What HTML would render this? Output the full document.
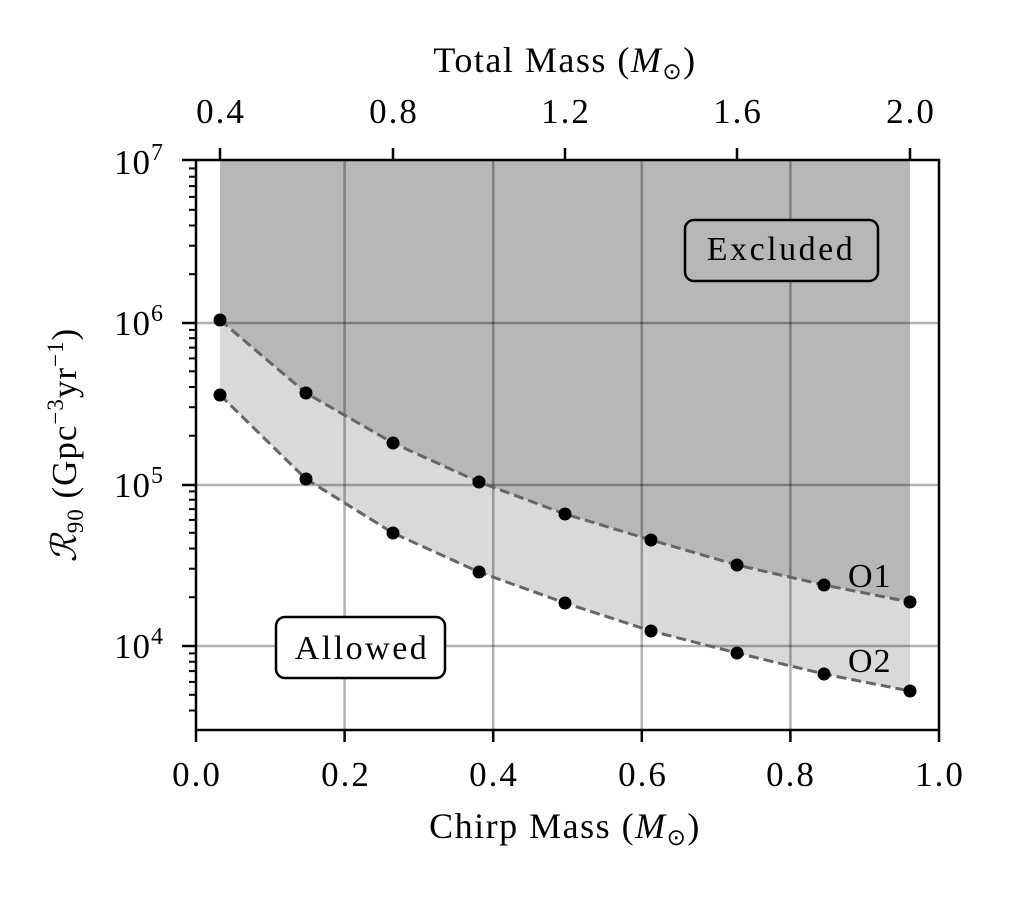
<!DOCTYPE html>
<html><head><meta charset="utf-8"><style>body{margin:0;background:#fff}svg{display:block}text{font-family:"Liberation Serif",serif;fill:#000}</style></head><body>
<svg width="1011" height="900" viewBox="0 0 1011 900">
<polygon points="220,160 910,160 910,602 824,585 737,565 651,540 565,514 479,482 393,443 306,393 220,320" fill="#b7b7b7"/>
<polygon points="220,320 306,393 393,443 479,482 565,514 651,540 737,565 824,585 910,602 910,691 824,674 737,653 651,631 565,603 479,572 393,533 306,479 220,395" fill="#d9d9d9"/>
<g stroke="rgba(0,0,0,0.3)" stroke-width="2.5">
<line x1="344.6" y1="160" x2="344.6" y2="730"/><line x1="493.2" y1="160" x2="493.2" y2="730"/><line x1="641.8" y1="160" x2="641.8" y2="730"/><line x1="790.4" y1="160" x2="790.4" y2="730"/>
<line x1="196" y1="323" x2="939" y2="323"/><line x1="196" y1="485" x2="939" y2="485"/><line x1="196" y1="646" x2="939" y2="646"/>
</g>
<g fill="none" stroke="#666" stroke-width="3" stroke-dasharray="10,5">
<polyline points="220,320 306,393 393,443 479,482 565,514 651,540 737,565 824,585 910,602"/>
<polyline points="220,395 306,479 393,533 479,572 565,603 651,631 737,653 824,674 910,691"/>
</g>
<g fill="#000">
<circle cx="220" cy="320" r="6.5"/><circle cx="306" cy="393" r="6.5"/><circle cx="393" cy="443" r="6.5"/><circle cx="479" cy="482" r="6.5"/><circle cx="565" cy="514" r="6.5"/><circle cx="651" cy="540" r="6.5"/><circle cx="737" cy="565" r="6.5"/><circle cx="824" cy="585" r="6.5"/><circle cx="910" cy="602" r="6.5"/>
<circle cx="220" cy="395" r="6.5"/><circle cx="306" cy="479" r="6.5"/><circle cx="393" cy="533" r="6.5"/><circle cx="479" cy="572" r="6.5"/><circle cx="565" cy="603" r="6.5"/><circle cx="651" cy="631" r="6.5"/><circle cx="737" cy="653" r="6.5"/><circle cx="824" cy="674" r="6.5"/><circle cx="910" cy="691" r="6.5"/>
</g>
<rect x="196" y="160" width="743" height="570" fill="none" stroke="#000" stroke-width="2.5"/>
<g stroke="#000" stroke-width="2.5">
<line x1="196" y1="730" x2="196" y2="742"/><line x1="344.6" y1="730" x2="344.6" y2="742"/><line x1="493.2" y1="730" x2="493.2" y2="742"/><line x1="641.8" y1="730" x2="641.8" y2="742"/><line x1="790.4" y1="730" x2="790.4" y2="742"/><line x1="939" y1="730" x2="939" y2="742"/>
<line x1="220" y1="160" x2="220" y2="148"/><line x1="393" y1="160" x2="393" y2="148"/><line x1="565" y1="160" x2="565" y2="148"/><line x1="737" y1="160" x2="737" y2="148"/><line x1="910" y1="160" x2="910" y2="148"/>
<line x1="196" y1="160" x2="182" y2="160"/><line x1="196" y1="323" x2="182" y2="323"/><line x1="196" y1="485" x2="182" y2="485"/><line x1="196" y1="646" x2="182" y2="646"/>
</g>
<g stroke="#000" stroke-width="2">
<line x1="196" y1="710.5" x2="189" y2="710.5"/><line x1="196" y1="694.8" x2="189" y2="694.8"/><line x1="196" y1="681.9" x2="189" y2="681.9"/><line x1="196" y1="671.1" x2="189" y2="671.1"/><line x1="196" y1="661.7" x2="189" y2="661.7"/><line x1="196" y1="653.4" x2="189" y2="653.4"/>
<line x1="196" y1="597.2" x2="189" y2="597.2"/><line x1="196" y1="568.7" x2="189" y2="568.7"/><line x1="196" y1="548.5" x2="189" y2="548.5"/><line x1="196" y1="532.8" x2="189" y2="532.8"/><line x1="196" y1="519.9" x2="189" y2="519.9"/><line x1="196" y1="509.1" x2="189" y2="509.1"/><line x1="196" y1="499.7" x2="189" y2="499.7"/><line x1="196" y1="491.4" x2="189" y2="491.4"/>
<line x1="196" y1="435.7" x2="189" y2="435.7"/><line x1="196" y1="407.2" x2="189" y2="407.2"/><line x1="196" y1="387" x2="189" y2="387"/><line x1="196" y1="371.3" x2="189" y2="371.3"/><line x1="196" y1="358.4" x2="189" y2="358.4"/><line x1="196" y1="347.6" x2="189" y2="347.6"/><line x1="196" y1="338.2" x2="189" y2="338.2"/><line x1="196" y1="329.9" x2="189" y2="329.9"/>
<line x1="196" y1="274.2" x2="189" y2="274.2"/><line x1="196" y1="245.7" x2="189" y2="245.7"/><line x1="196" y1="225.5" x2="189" y2="225.5"/><line x1="196" y1="209.8" x2="189" y2="209.8"/><line x1="196" y1="196.9" x2="189" y2="196.9"/><line x1="196" y1="186.1" x2="189" y2="186.1"/><line x1="196" y1="176.7" x2="189" y2="176.7"/><line x1="196" y1="168.4" x2="189" y2="168.4"/>
</g>
<g font-size="35" text-anchor="middle" letter-spacing="2">
<text x="197" y="786">0.0</text><text x="346" y="786">0.2</text><text x="494" y="786">0.4</text><text x="643" y="786">0.6</text><text x="791" y="786">0.8</text><text x="940" y="786">1.0</text>
<text x="221" y="123">0.4</text><text x="394" y="123">0.8</text><text x="566" y="123">1.2</text><text x="738" y="123">1.6</text><text x="911" y="123">2.0</text>
</g>
<g font-size="36" text-anchor="middle" letter-spacing="1.5">
<text x="565" y="838">Chirp Mass (<tspan font-style="italic">M</tspan><tspan font-size="23" dy="7">⊙</tspan><tspan dy="-7">)</tspan></text>
<text x="565" y="72">Total Mass (<tspan font-style="italic">M</tspan><tspan font-size="23" dy="7">⊙</tspan><tspan dy="-7">)</tspan></text>
</g>
<g font-size="35" text-anchor="end" letter-spacing="1">
<text x="164" y="174">10<tspan font-size="24" dy="-14">7</tspan></text>
<text x="164" y="335">10<tspan font-size="24" dy="-14">6</tspan></text>
<text x="164" y="497">10<tspan font-size="24" dy="-14">5</tspan></text>
<text x="164" y="658">10<tspan font-size="24" dy="-14">4</tspan></text>
</g>
<text transform="translate(76,445) rotate(-90)" text-anchor="middle" font-size="35" letter-spacing="1"><tspan font-style="italic">ℛ</tspan><tspan font-size="23" dy="7">90</tspan><tspan dy="-7"> (Gpc</tspan><tspan font-size="23" dy="-13">−3</tspan><tspan dy="13">yr</tspan><tspan font-size="23" dy="-13">−1</tspan><tspan dy="13">)</tspan></text>
<rect x="685" y="220" width="193" height="61" rx="9" fill="#b7b7b7" stroke="#000" stroke-width="2.5"/>
<text x="781" y="260" font-size="34" text-anchor="middle" letter-spacing="2.5">Excluded</text>
<rect x="276" y="617" width="169" height="61" rx="9" fill="#fff" stroke="#000" stroke-width="2.5"/>
<text x="362" y="659" font-size="34" text-anchor="middle" letter-spacing="2.5">Allowed</text>
<text x="848" y="587" font-size="34" letter-spacing="1">O1</text>
<text x="848" y="672" font-size="34" letter-spacing="1">O2</text>
</svg>
</body></html>
